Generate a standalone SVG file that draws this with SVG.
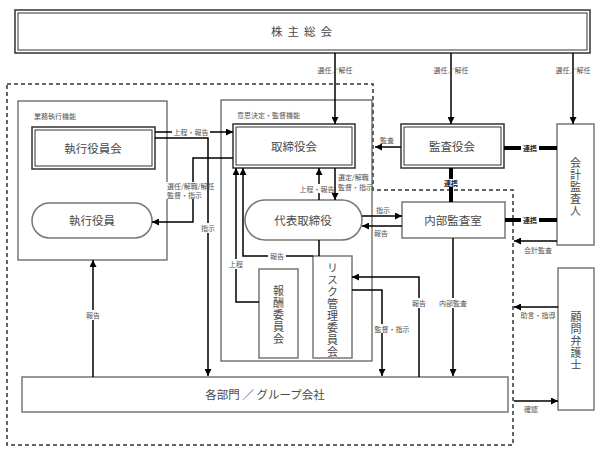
<svg xmlns="http://www.w3.org/2000/svg" width="605" height="455" viewBox="0 0 605 455">
<defs>
<marker id="ah" viewBox="0 0 10 10" refX="10" refY="5" markerWidth="7" markerHeight="7" markerUnits="userSpaceOnUse" orient="auto"><path d="M0,0 L10,5 L0,10 z" fill="#000"/></marker>
<style>
.box{fill:#fff;stroke:#777;stroke-width:1.5}
.dbo{fill:#fff;stroke:#333;stroke-width:1.5}
.dbi{fill:none;stroke:#333;stroke-width:1}
.grp{fill:none;stroke:#555;stroke-width:1.2}
.ln{fill:none;stroke:#000;stroke-width:1.5}
.arr{fill:none;stroke:#000;stroke-width:1.5;marker-end:url(#ah)}
.thk{fill:none;stroke:#000;stroke-width:4}
.dash{fill:none;stroke:#333;stroke-width:1.5;stroke-dasharray:4 3}
.t{font-family:"Noto Sans CJK JP","Noto Sans",sans-serif;font-size:11.5px;fill:#4a4a4a;text-anchor:middle;dominant-baseline:central}
.v{font-family:"Noto Sans CJK JP","Noto Sans",sans-serif;font-size:11px;fill:#4a4a4a;text-anchor:middle;writing-mode:vertical-rl;text-orientation:upright;letter-spacing:1px}
.s{font-family:"Noto Sans CJK JP","Noto Sans",sans-serif;font-size:7px;fill:#555;text-anchor:middle;dominant-baseline:central}
.sb{font-family:"Noto Sans CJK JP","Noto Sans",sans-serif;font-size:7px;fill:#222;font-weight:bold;text-anchor:middle;dominant-baseline:central}
.sl{font-family:"Noto Sans CJK JP","Noto Sans",sans-serif;font-size:7px;fill:#555;text-anchor:start;dominant-baseline:central}
.bg{fill:#fff}
</style>
</defs>

<path class="dash" d="M7,84 H373 V190 H513 V445 H7 Z"/>

<g id="shareholders">
<rect class="dbo" x="15" y="10" width="575" height="43"/>
<rect class="dbi" x="18" y="13" width="569" height="37"/>
<text class="t" x="304" y="31" font-size="10" letter-spacing="5">株主総会</text>
</g>

<g id="exec-func">
<rect class="grp" x="18" y="101" width="149" height="159"/>
<text class="sl" x="34" y="116">業務執行機能</text>
</g>
<g id="exec-board">
<rect class="dbo" x="32" y="127" width="123" height="42"/>
<rect class="dbi" x="35" y="130" width="117" height="36"/>
<text class="t" x="93" y="148">執行役員会</text>
</g>
<g id="exec-officers">
<rect class="box" x="32" y="203" width="120" height="35" rx="17.5"/>
<text class="t" x="92" y="220">執行役員</text>
</g>

<g id="decision-func">
<rect class="grp" x="221" y="100" width="151" height="261"/>
<text class="sl" x="237" y="115">意思決定・監督機能</text>
</g>
<g id="board">
<rect class="dbo" x="233" y="124" width="122" height="44"/>
<rect class="dbi" x="236" y="127" width="116" height="38"/>
<text class="t" x="294" y="146">取締役会</text>
</g>
<g id="rep-director">
<rect class="box" x="245" y="200" width="117" height="40" rx="20"/>
<text class="t" x="303" y="220">代表取締役</text>
</g>
<g id="compensation">
<rect class="box" x="259" y="269" width="39" height="89"/>
<text class="v" x="278.5" y="315">報酬委員会</text>
</g>
<g id="risk">
<rect class="box" x="313" y="256" width="39" height="102"/>
<text class="v" x="332.5" y="310">リスク管理委員会</text>
</g>

<g id="auditors">
<rect class="dbo" x="401" y="124" width="103" height="44"/>
<rect class="dbi" x="404" y="127" width="97" height="38"/>
<text class="t" x="452" y="146">監査役会</text>
</g>
<g id="internal-audit">
<rect class="box" x="402" y="202" width="103" height="36"/>
<text class="t" x="453" y="220">内部監査室</text>
</g>
<g id="accounting-auditor">
<rect class="box" x="557" y="124" width="37" height="121"/>
<text class="v" x="575.5" y="187">会計監査人</text>
</g>
<g id="lawyer">
<rect class="box" x="558" y="268" width="36" height="142"/>
<text class="v" x="576" y="341">顧問弁護士</text>
</g>
<g id="departments">
<rect class="box" x="22" y="377" width="486" height="35"/>
<text class="t" x="265" y="394">各部門 ／ グループ会社</text>
</g>

<g id="connectors">
<path class="arr" d="M335,53 V124"/>
<path class="arr" d="M451,53 V124"/>
<path class="arr" d="M573,53 V124"/>
<text class="s" x="335" y="70">選任／解任</text>
<text class="s" x="451" y="70">選任／解任</text>
<text class="s" x="573" y="70">選任／解任</text>

<path class="arr" d="M155,132 H233"/>
<rect class="bg" x="172" y="128" width="38" height="8"/>
<text class="s" x="191" y="132">上程・報告</text>

<path class="arr" d="M155,138 H208 V376"/>
<rect class="bg" x="201" y="223" width="14" height="10"/>
<text class="s" x="208" y="228">指示</text>

<path class="arr" d="M233,158 H193 V222 H152"/>
<rect class="bg" x="166" y="182" width="40" height="17"/>
<text class="sl" x="167" y="186" font-size="6.5">選任/解職/解任</text>
<text class="sl" x="167" y="195" font-size="6.5">監督・指示</text>

<path class="arr" d="M319,200 V168"/>
<rect class="bg" x="301" y="184" width="32" height="9"/>
<text class="s" x="317" y="188.5">上程・報告</text>

<path class="arr" d="M335,168 V200"/>
<text class="sl" x="338" y="177" font-size="6.5">選定/解職</text>
<text class="sl" x="338" y="187" font-size="6.5">監督・指示</text>

<path class="arr" d="M362,216 H402"/>
<text class="s" x="383" y="210">指示</text>
<path class="arr" d="M402,226 H362"/>
<text class="s" x="381" y="233">報告</text>

<path class="ln" d="M319,240 V256"/>
<path class="arr" d="M313,256 H243 V168"/>
<rect class="bg" x="268" y="252" width="18" height="8"/>
<text class="s" x="277" y="256">報告</text>

<path class="arr" d="M259,302 H236 V168"/>
<rect class="bg" x="228" y="259" width="16" height="10"/>
<text class="s" x="236" y="264">上程</text>

<path class="arr" d="M352,290 H382 V376"/>
<rect class="bg" x="374" y="324" width="36" height="9"/>
<text class="s" x="392" y="328.5">監督・指示</text>

<path class="arr" d="M419,377 V277 H352"/>
<rect class="bg" x="410" y="298" width="18" height="10"/>
<text class="s" x="419" y="303">報告</text>

<path class="arr" d="M453,238 V376"/>
<rect class="bg" x="438" y="298" width="30" height="10"/>
<text class="s" x="453" y="303">内部監査</text>

<path class="arr" d="M401,147 H375"/>
<text class="s" x="387" y="140">監査</text>

<path class="thk" d="M504,148 H557"/>
<rect class="bg" x="521" y="144" width="18" height="8"/>
<text class="sb" x="530" y="148">連携</text>

<path class="thk" d="M451,168 V202"/>
<rect class="bg" x="442" y="179" width="18" height="8"/>
<text class="sb" x="451" y="183">連携</text>

<path class="thk" d="M505,220 H557"/>
<rect class="bg" x="521" y="216" width="18" height="8"/>
<text class="sb" x="530" y="220">連携</text>

<path class="arr" d="M557,241 H514"/>
<text class="s" x="538" y="250">会計監査</text>

<path class="arr" d="M558,307 H514"/>
<text class="s" x="538" y="315">助言・指導</text>

<path class="arr" d="M514,401 H558"/>
<text class="s" x="531" y="409">確認</text>

<path class="arr" d="M93,377 V260"/>
<rect class="bg" x="85" y="310" width="16" height="10"/>
<text class="s" x="93" y="315">報告</text>
</g>
</svg>
